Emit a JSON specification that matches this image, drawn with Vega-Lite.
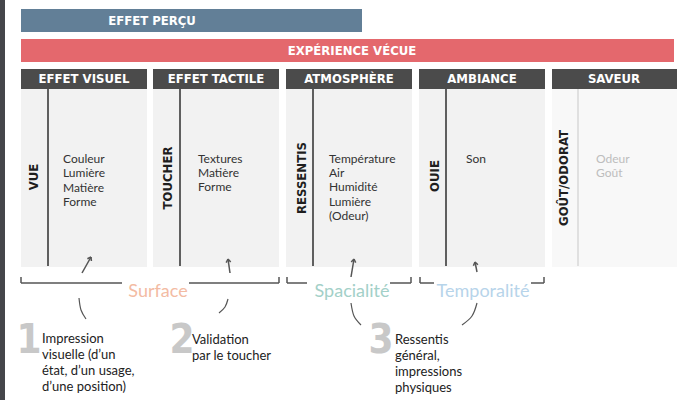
{
  "$schema": "https://vega.github.io/schema/vega-lite/v6.json",
  "width": 678,
  "height": 400,
  "padding": 0,
  "autosize": {"type": "none"},
  "background": "white",
  "config": {"view": {"stroke": null}},
  "resolve": {"scale": {"color": "independent"}},
  "datasets": {
    "rects": [
      {"x": 0, "x2": 5, "y": 0, "y2": 400, "kind": "edge"},
      {"x": 21, "x2": 362, "y": 9, "y2": 32, "kind": "percu"},
      {"x": 21, "x2": 674, "y": 39, "y2": 62, "kind": "vecue"},
      {"x": 21, "x2": 147, "y": 89, "y2": 267, "kind": "panel"},
      {"x": 153, "x2": 279, "y": 89, "y2": 267, "kind": "panel"},
      {"x": 286, "x2": 412, "y": 89, "y2": 267, "kind": "panel"},
      {"x": 419, "x2": 545, "y": 89, "y2": 267, "kind": "panel"},
      {"x": 552, "x2": 677, "y": 89, "y2": 267, "kind": "panel_light"},
      {"x": 21, "x2": 147, "y": 69, "y2": 89, "kind": "header"},
      {"x": 153, "x2": 279, "y": 69, "y2": 89, "kind": "header"},
      {"x": 286, "x2": 412, "y": 69, "y2": 89, "kind": "header"},
      {"x": 419, "x2": 545, "y": 69, "y2": 89, "kind": "header"},
      {"x": 552, "x2": 677, "y": 69, "y2": 89, "kind": "header"}
    ],
    "rules": [
      {"x": 48, "y": 89, "x2": 48, "y2": 266, "kind": "dark"},
      {"x": 180, "y": 89, "x2": 180, "y2": 266, "kind": "dark"},
      {"x": 313, "y": 89, "x2": 313, "y2": 266, "kind": "dark"},
      {"x": 446, "y": 89, "x2": 446, "y2": 266, "kind": "dark"},
      {"x": 578, "y": 89, "x2": 578, "y2": 266, "kind": "faint"},
      {"x": 21, "y": 283, "x2": 122, "y2": 283, "kind": "mid"},
      {"x": 21, "y": 277, "x2": 21, "y2": 283, "kind": "mid"},
      {"x": 189, "y": 283, "x2": 279, "y2": 283, "kind": "mid"},
      {"x": 279, "y": 277, "x2": 279, "y2": 283, "kind": "mid"},
      {"x": 287, "y": 283, "x2": 307, "y2": 283, "kind": "mid"},
      {"x": 287, "y": 277, "x2": 287, "y2": 283, "kind": "mid"},
      {"x": 390, "y": 283, "x2": 411, "y2": 283, "kind": "mid"},
      {"x": 411, "y": 277, "x2": 411, "y2": 283, "kind": "mid"},
      {"x": 420, "y": 283, "x2": 434, "y2": 283, "kind": "mid"},
      {"x": 420, "y": 277, "x2": 420, "y2": 283, "kind": "mid"},
      {"x": 531, "y": 283, "x2": 544, "y2": 283, "kind": "mid"},
      {"x": 544, "y": 277, "x2": 544, "y2": 283, "kind": "mid"},
      {"x": 82, "y": 273, "x2": 91, "y2": 257, "kind": "arrow"},
      {"x": 87.4, "y": 258.7, "x2": 91, "y2": 257, "kind": "arrow"},
      {"x": 91.4, "y": 261, "x2": 91, "y2": 257, "kind": "arrow"},
      {"x": 230, "y": 273, "x2": 228, "y2": 259, "kind": "arrow"},
      {"x": 226.2, "y": 262.6, "x2": 228, "y2": 259, "kind": "arrow"},
      {"x": 230.7, "y": 261.9, "x2": 228, "y2": 259, "kind": "arrow"},
      {"x": 351, "y": 277, "x2": 354, "y2": 259, "kind": "arrow"},
      {"x": 351.2, "y": 261.9, "x2": 354, "y2": 259, "kind": "arrow"},
      {"x": 355.7, "y": 262.6, "x2": 354, "y2": 259, "kind": "arrow"},
      {"x": 477, "y": 272, "x2": 475, "y2": 262, "kind": "arrow"},
      {"x": 473.4, "y": 265.7, "x2": 475, "y2": 262, "kind": "arrow"},
      {"x": 477.9, "y": 264.8, "x2": 475, "y2": 262, "kind": "arrow"}
    ],
    "arcs": [
      {"id": "a1", "o": 1, "x": 79, "y": 298},
      {"id": "a1", "o": 2, "x": 81, "y": 310},
      {"id": "a1", "o": 3, "x": 86, "y": 319},
      {"id": "a2", "o": 1, "x": 228, "y": 299},
      {"id": "a2", "o": 2, "x": 225, "y": 307},
      {"id": "a2", "o": 3, "x": 219, "y": 313},
      {"id": "a3", "o": 1, "x": 351, "y": 303},
      {"id": "a3", "o": 2, "x": 354, "y": 316},
      {"id": "a3", "o": 3, "x": 361, "y": 325},
      {"id": "a4", "o": 1, "x": 477, "y": 303},
      {"id": "a4", "o": 2, "x": 472, "y": 316},
      {"id": "a4", "o": 3, "x": 462, "y": 325}
    ],
    "whiteLabels": [
      {"x": 152, "y": 21, "label": "EFFET PERÇU"},
      {"x": 352, "y": 51, "label": "EXPÉRIENCE VÉCUE"},
      {"x": 84, "y": 79, "label": "EFFET VISUEL"},
      {"x": 216, "y": 79, "label": "EFFET TACTILE"},
      {"x": 349, "y": 79, "label": "ATMOSPHÈRE"},
      {"x": 482, "y": 79, "label": "AMBIANCE"},
      {"x": 614, "y": 79, "label": "SAVEUR"}
    ],
    "senses": [
      {"x": 34, "y": 177, "label": "VUE"},
      {"x": 168, "y": 178, "label": "TOUCHER"},
      {"x": 302, "y": 178, "label": "RESSENTIS"},
      {"x": 435, "y": 176, "label": "OUIE"},
      {"x": 564, "y": 178, "label": "GOÛT/ODORAT"}
    ],
    "items": [
      {"x": 63, "y": 159, "label": "Couleur", "kind": "normal"},
      {"x": 63, "y": 173, "label": "Lumière", "kind": "normal"},
      {"x": 63, "y": 188, "label": "Matière", "kind": "normal"},
      {"x": 63, "y": 202, "label": "Forme", "kind": "normal"},
      {"x": 198, "y": 159, "label": "Textures", "kind": "normal"},
      {"x": 198, "y": 173, "label": "Matière", "kind": "normal"},
      {"x": 198, "y": 187, "label": "Forme", "kind": "normal"},
      {"x": 329, "y": 159, "label": "Température", "kind": "normal"},
      {"x": 329, "y": 173, "label": "Air", "kind": "normal"},
      {"x": 329, "y": 187, "label": "Humidité", "kind": "normal"},
      {"x": 329, "y": 202, "label": "Lumière", "kind": "normal"},
      {"x": 329, "y": 216, "label": "(Odeur)", "kind": "normal"},
      {"x": 466, "y": 159, "label": "Son", "kind": "normal"},
      {"x": 596, "y": 159, "label": "Odeur", "kind": "faded"},
      {"x": 596, "y": 173, "label": "Goût", "kind": "faded"}
    ],
    "groups": [
      {"x": 158, "y": 292, "label": "Surface", "kind": "surface"},
      {"x": 352, "y": 292, "label": "Spacialité", "kind": "space"},
      {"x": 483, "y": 292, "label": "Temporalité", "kind": "time"}
    ],
    "numbers": [
      {"x": 29, "y": 341, "label": "1"},
      {"x": 182, "y": 341, "label": "2"},
      {"x": 381, "y": 341, "label": "3"}
    ],
    "notes": [
      {"x": 42, "y": 339, "label": "Impression"},
      {"x": 42, "y": 355, "label": "visuelle (d’un"},
      {"x": 42, "y": 371, "label": "état, d’un usage,"},
      {"x": 42, "y": 387, "label": "d’une position)"},
      {"x": 192, "y": 340, "label": "Validation"},
      {"x": 192, "y": 356, "label": "par le toucher"},
      {"x": 395, "y": 340, "label": "Ressentis"},
      {"x": 395, "y": 356, "label": "général,"},
      {"x": 395, "y": 372, "label": "impressions"},
      {"x": 395, "y": 388, "label": "physiques"}
    ]
  },
  "layer": [
    {
      "data": {"name": "rects"},
      "mark": {"type": "rect"},
      "encoding": {
        "x": {"field": "x", "type": "quantitative", "scale": {"domain": [0, 678], "nice": false, "zero": false}, "axis": null},
        "x2": {"field": "x2"},
        "y": {"field": "y", "type": "quantitative", "scale": {"domain": [0, 400], "nice": false, "zero": false, "reverse": true}, "axis": null},
        "y2": {"field": "y2"},
        "color": {"field": "kind", "type": "nominal", "legend": null,
          "scale": {"domain": ["edge", "percu", "vecue", "panel", "panel_light", "header"],
                    "range": ["#45464a", "#627f97", "#e4686d", "#f2f2f2", "#f8f8f8", "#4b4b4b"]}}
      }
    },
    {
      "data": {"name": "rules"},
      "mark": {"type": "rule", "strokeWidth": 1.5},
      "encoding": {
        "x": {"field": "x", "type": "quantitative"},
        "x2": {"field": "x2"},
        "y": {"field": "y", "type": "quantitative"},
        "y2": {"field": "y2"},
        "color": {"field": "kind", "type": "nominal", "legend": null,
          "scale": {"domain": ["dark", "faint", "mid", "arrow"],
                    "range": ["#2e2e2e", "#d9d9d9", "#555555", "#555555"]}}
      }
    },
    {
      "data": {"name": "arcs"},
      "mark": {"type": "line", "interpolate": "natural", "strokeWidth": 1.2, "color": "#555555"},
      "encoding": {
        "x": {"field": "x", "type": "quantitative"},
        "y": {"field": "y", "type": "quantitative"},
        "detail": {"field": "id"},
        "order": {"field": "o"}
      }
    },
    {
      "data": {"name": "whiteLabels"},
      "mark": {"type": "text", "font": "DejaVu Sans Condensed", "fontWeight": "bold", "fontSize": 13, "color": "white", "align": "center", "baseline": "middle"},
      "encoding": {
        "x": {"field": "x", "type": "quantitative"},
        "y": {"field": "y", "type": "quantitative"},
        "text": {"field": "label"}
      }
    },
    {
      "data": {"name": "senses"},
      "mark": {"type": "text", "font": "DejaVu Sans Condensed", "fontWeight": "bold", "fontSize": 13, "color": "#1e1e1e", "align": "center", "baseline": "middle", "angle": 270},
      "encoding": {
        "x": {"field": "x", "type": "quantitative"},
        "y": {"field": "y", "type": "quantitative"},
        "text": {"field": "label"}
      }
    },
    {
      "data": {"name": "items"},
      "mark": {"type": "text", "font": "Lato", "fontSize": 12, "align": "left", "baseline": "middle"},
      "encoding": {
        "x": {"field": "x", "type": "quantitative"},
        "y": {"field": "y", "type": "quantitative"},
        "text": {"field": "label"},
        "color": {"field": "kind", "type": "nominal", "legend": null,
          "scale": {"domain": ["normal", "faded"], "range": ["#333333", "#bdbdbd"]}}
      }
    },
    {
      "data": {"name": "groups"},
      "mark": {"type": "text", "font": "Lato", "fontSize": 18, "align": "center", "baseline": "middle"},
      "encoding": {
        "x": {"field": "x", "type": "quantitative"},
        "y": {"field": "y", "type": "quantitative"},
        "text": {"field": "label"},
        "color": {"field": "kind", "type": "nominal", "legend": null,
          "scale": {"domain": ["surface", "space", "time"], "range": ["#f3bba3", "#a3d0c8", "#b7d4ea"]}}
      }
    },
    {
      "data": {"name": "numbers"},
      "mark": {"type": "text", "font": "DejaVu Sans Condensed", "fontWeight": "bold", "fontSize": 40, "color": "#c8c8c8", "align": "center", "baseline": "middle"},
      "encoding": {
        "x": {"field": "x", "type": "quantitative"},
        "y": {"field": "y", "type": "quantitative"},
        "text": {"field": "label"}
      }
    },
    {
      "data": {"name": "notes"},
      "mark": {"type": "text", "font": "Lato", "fontSize": 13, "color": "#222222", "align": "left", "baseline": "middle"},
      "encoding": {
        "x": {"field": "x", "type": "quantitative"},
        "y": {"field": "y", "type": "quantitative"},
        "text": {"field": "label"}
      }
    }
  ]
}
